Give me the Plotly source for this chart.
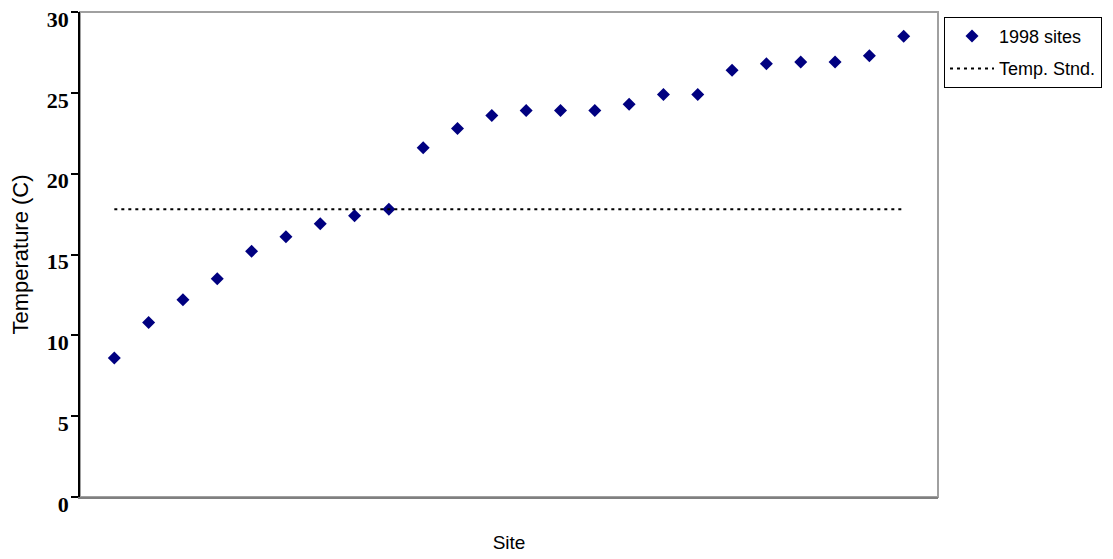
import plotly.graph_objects as go

sites = list(range(1, 25))
temps_1998 = [8.6, 10.8, 12.2, 13.5, 15.2, 16.1, 16.9, 17.4, 17.8, 21.6, 22.8, 23.6,
              23.9, 23.9, 23.9, 24.3, 24.9, 24.9, 26.4, 26.8, 26.9, 26.9, 27.3, 28.5]
temp_standard = [17.8] * 24
y_ticks = [0, 5, 10, 15, 20, 25, 30]

fig = go.Figure()
fig.add_trace(go.Scatter(
    x=sites, y=temps_1998, mode="markers", name="1998 sites", legendgroup="a",
    marker=dict(symbol="diamond", size=10, color="#000080"),
))
fig.add_trace(go.Scatter(
    x=sites, y=temp_standard, mode="lines", name="Temp. Stnd.", legendgroup="b",
    line=dict(color="black", width=2, dash="3px,4px"),
))

fig.update_layout(
    width=1105, height=551,
    margin=dict(l=72, r=175, t=4, b=62, autoexpand=False),
    paper_bgcolor="white", plot_bgcolor="white",
    showlegend=True,
    legend=dict(
        x=1.007, y=0.99, xanchor="left", yanchor="top",
        bordercolor="black", borderwidth=1, bgcolor="white",
        font=dict(family="Liberation Sans, Arial", size=18, color="black"),
        itemwidth=44, tracegroupgap=6,
    ),
    shapes=[dict(type="rect", xref="paper", yref="paper", x0=0, x1=1, y0=0, y1=1,
                 line=dict(color="#a0a0a0", width=2), layer="below")],
)
fig.update_xaxes(
    range=[0, 25], showgrid=False, zeroline=False, showticklabels=False, ticks="",
    showline=True, linecolor="#808080", linewidth=2, automargin=False,
    title=dict(text="Site", font=dict(family="Liberation Sans, Arial", size=19, color="black"), standoff=38),
)
fig.update_yaxes(
    range=[0, 30], tickvals=y_ticks, showgrid=False, zeroline=False, automargin=False,
    showline=True, linecolor="black", linewidth=1.5,
    ticks="outside", ticklen=7, tickcolor="black", tickwidth=1.5,
    ticklabelshift=7, ticklabelstandoff=-2, ticklabeloverflow="allow",
    tickfont=dict(family="Liberation Serif, Times New Roman", size=22, color="black", weight="bold"),
    title=dict(text="Temperature (C)", font=dict(family="Liberation Sans, Arial", size=22, color="black"), standoff=20),
)

fig.write_html("out.html")
